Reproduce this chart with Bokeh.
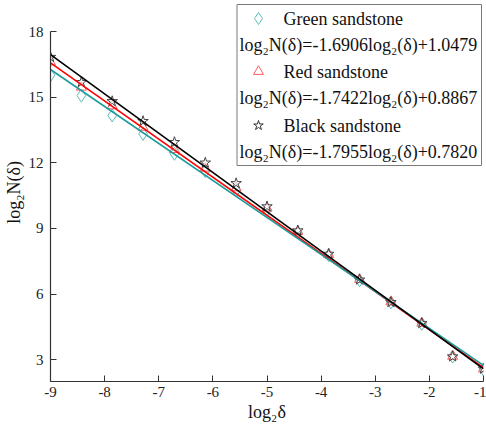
from bokeh.plotting import figure
from bokeh.models import Range1d, ColumnDataSource
from bokeh.core.properties import value
from bokeh.embed import file_html
from bokeh.resources import INLINE

# ---- data ----
log2_delta = [-9.0, -8.43, -7.86, -7.29, -6.71, -6.14, -5.57, -5.0, -4.43, -3.86, -3.29, -2.71, -2.14, -1.57, -1.0]
green_vals = [16.0, 15.07, 14.16, 13.32, 12.41, 11.62, 10.73, 9.85, 8.82, 7.78, 6.63, 5.62, 4.64, 3.14, 2.55]
red_vals = [16.6, 15.45, 14.6, 13.62, 12.6, 11.75, 10.85, 9.92, 8.86, 7.8, 6.66, 5.64, 4.66, 3.15, 2.57]
black_vals = [16.83, 15.68, 14.81, 13.9, 12.94, 12.0, 11.06, 10.0, 8.9, 7.83, 6.65, 5.62, 4.66, 3.14, 2.58]

series_names = ["Green sandstone", "Red sandstone", "Black sandstone"]
slopes = [-1.6906, -1.7422, -1.7955]
intercepts = [1.0479, 0.8867, 0.7820]
equations = [
    "log\u2082N(\u03b4)=-1.6906log\u2082(\u03b4)+1.0479",
    "log\u2082N(\u03b4)=-1.7422log\u2082(\u03b4)+0.8867",
    "log\u2082N(\u03b4)=-1.7955log\u2082(\u03b4)+0.7820",
]
x_ticks = [-9, -8, -7, -6, -5, -4, -3, -2, -1]
x_tick_labels = ["-9", "-8", "-7", "-6", "-5", "-4", "-3", "-2", "-1"]
y_ticks = [3, 6, 9, 12, 15, 18]
y_tick_labels = ["3", "6", "9", "12", "15", "18"]

# ---- layout ----
W, H = 486, 428
L, R, T, B = 50, 3, 3, 47
fw, fh = W - L - R, H - T - B
x0, x1 = -9.0, -1.0
y_lo = 2.0
ppu_y = (381 - 31) / 16.0
y_hi = y_lo + fh / ppu_y

def sx(px):
    return x0 + (px - L) / fw * (x1 - x0)

def sy(py):
    return y_lo + (H - B - py) / ppu_y

FONT = "Liberation Serif"

p = figure(width=W, height=H, output_backend="svg", toolbar_location=None,
           x_range=Range1d(x0, x1), y_range=Range1d(y_lo, y_hi),
           min_border_left=L, min_border_right=R, min_border_top=T, min_border_bottom=B)
p.outline_line_color = None
p.xgrid.visible = False
p.ygrid.visible = False
p.background_fill_color = "white"

for ax in (p.xaxis[0], p.yaxis[0]):
    ax.major_tick_in = 6
    ax.major_tick_out = 0
    ax.minor_tick_line_color = None
    ax.axis_line_color = "#333333"
    ax.major_tick_line_color = "#333333"
    ax.axis_line_width = 1.2
    ax.major_label_text_font = FONT
    ax.major_label_text_font_size = "15px"
    ax.major_label_text_color = "#222222"
    ax.axis_label_text_font = FONT
    ax.axis_label_text_font_size = "18px"
    ax.axis_label_text_font_style = "normal"
    ax.axis_label_text_color = "#111111"

p.xaxis[0].ticker = x_ticks
p.yaxis[0].ticker = y_ticks
p.xaxis[0].major_label_overrides = {t: s for t, s in zip(x_ticks, x_tick_labels)}
p.yaxis[0].major_label_overrides = {t: s for t, s in zip(y_ticks, y_tick_labels)}
p.yaxis[0].bounds = (2, 18)
p.xaxis[0].axis_label = "log\u2082\u03b4"
p.yaxis[0].axis_label = "log\u2082N(\u03b4)"
p.xaxis[0].major_label_standoff = 5
p.xaxis[0].axis_label_standoff = 2
p.yaxis[0].major_label_standoff = 7
p.yaxis[0].axis_label_standoff = 2

src = ColumnDataSource(dict(x=log2_delta, g=green_vals, r=red_vals, b=black_vals))

marker_colors = ["#5CBDBD", "#FF5C5C", "#333333"]
line_colors = ["#1E9C9C", "#FF0000", "#000000"]

p.scatter("x", "g", source=src, marker="diamond", size=13, fill_alpha=0,
          line_color=marker_colors[0], line_width=1)
p.scatter("x", "r", source=src, marker="triangle", size=10, fill_alpha=0,
          line_color=marker_colors[1], line_width=1)
p.scatter("x", "b", source=src, marker="star", size=11, fill_color="white", fill_alpha=0.6,
          line_color=marker_colors[2], line_width=0.9)

xl = [log2_delta[0], log2_delta[-1]]
for k in (1, 0, 2):
    yl = [slopes[k] * xv + intercepts[k] for xv in xl]
    p.line(xl, yl, line_color=line_colors[k], line_width=1.6)

# ---- legend box ----
p.quad(left=[sx(236.5)], right=[sx(481)], top=[sy(4)], bottom=[sy(165)],
       fill_color="white", line_color="#7A7A7A", line_width=1)

row_y = [18, 44, 71, 97, 125, 151]
markers = ["diamond", "triangle", "star"]
msizes = [12, 10, 10]
for k in range(3):
    yn = sy(row_y[2 * k])
    ye = sy(row_y[2 * k + 1])
    p.scatter([sx(258)], [yn], marker=markers[k], size=msizes[k], fill_alpha=0,
              line_color=marker_colors[k], line_width=1)
    p.text([sx(283)], [yn], text=[series_names[k]], text_font=value(FONT),
           text_font_size="18px", text_baseline="middle", text_align="left", text_color="#111111")
    p.text([sx(239)], [ye], text=[equations[k]], text_font=value(FONT),
           text_font_size="18px", text_baseline="middle", text_align="left", text_color="#111111")

open("out.html", "w").write(file_html(p, INLINE))
